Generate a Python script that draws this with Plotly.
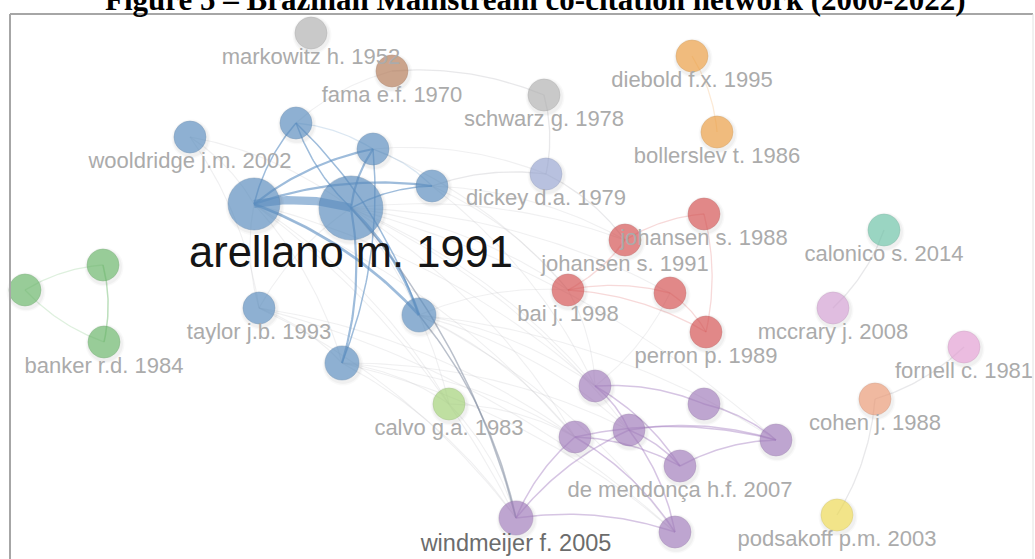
import numpy as np
import plotly.graph_objects as go

# ---------------- data (VOSviewer layout coordinates) ----------------
labels = ["markowitz h. 1952", "fama e.f. 1970", "schwarz g. 1978", "diebold f.x. 1995",
          "bollerslev t. 1986", "dickey d.a. 1979", "wooldridge j.m. 2002", "", "", "",
          "", "arellano m. 1991", "taylor j.b. 1993", "", "",
          "", "", "banker r.d. 1984",
          "johansen s. 1988", "johansen s. 1991", "bai j. 1998", "", "perron p. 1989",
          "calonico s. 2014", "mccrary j. 2008", "fornell c. 1981", "cohen j. 1988",
          "podsakoff p.m. 2003", "calvo g.a. 1983",
          "", "", "", "", "", "de mendonça h.f. 2007", "windmeijer f. 2005", ""]
node_x = [311, 392, 544, 692, 717, 546, 190, 296, 373, 432, 254, 351, 259, 419, 342,
          103, 25, 104, 704, 625, 568, 670, 706, 884, 833, 964, 875, 837, 449,
          595, 704, 575, 629, 776, 680, 516, 675]
node_y = [33, 71, 95, 56, 132, 174, 137, 123, 149, 186, 204, 208, 308, 315, 363,
          265, 290, 342, 214, 240, 290, 293, 332, 230, 308, 347, 399, 515, 404,
          386, 404, 437, 430, 440, 466, 518, 532]
citations = [60, 60, 60, 60, 60, 60, 60, 60, 60, 60, 158, 240, 60, 68, 68,
             60, 60, 60, 60, 60, 60, 60, 60, 60, 60, 60, 60, 60, 60,
             60, 60, 60, 60, 60, 60, 68, 60]
cluster = ["gray", "brown", "gray", "orange", "orange", "periwinkle", "blue", "blue", "blue", "blue",
           "blue", "blue", "blue", "blue", "blue", "green", "green", "green",
           "red", "red", "red", "red", "red", "teal", "lilac", "pink", "salmon", "yellow", "lime",
           "purple", "purple", "purple", "purple", "purple", "purple", "purple", "purple"]

# links: (source, target, strength)
links = [
    # strong blue cluster links
    (10, 11, 15), (10, 8, 4), (10, 9, 4), (10, 13, 5), (10, 7, 3), (11, 7, 3),
    (11, 8, 4), (11, 9, 3), (11, 13, 5), (11, 14, 4), (8, 14, 3), (7, 13, 3),
    # links to windmeijer
    (11, 35, 3), (13, 35, 3),
    # purple cluster
    (29, 30, 3), (29, 32, 3), (31, 33, 3), (32, 33, 3), (32, 34, 3), (34, 33, 3),
    (35, 31, 3), (35, 36, 3), (35, 32, 3), (31, 36, 3), (32, 36, 3), (30, 33, 3),
    (29, 34, 3), (31, 34, 3),
    # red cluster
    (20, 21, 2), (19, 18, 2), (18, 22, 2), (21, 22, 2), (20, 22, 2),
    # green cluster
    (15, 17, 3), (16, 15, 2), (17, 16, 2),
    # light links
    (2, 5, 2), (3, 4, 2), (5, 19, 2), (23, 24, 2), (25, 26, 2), (26, 27, 2), (19, 20, 2),
    (9, 5, 2), (1, 2, 2), (7, 8, 2), (8, 9, 2), (7, 1, 1),
    # faint background web
    (6, 10, 1), (6, 11, 1), (12, 10, 1), (12, 11, 1), (12, 14, 1), (14, 28, 1), (10, 28, 1),
    (11, 28, 1), (13, 29, 1), (13, 31, 1), (13, 32, 1), (13, 36, 1), (14, 35, 1), (14, 31, 1),
    (12, 35, 1), (10, 35, 1), (11, 29, 1), (11, 31, 1), (11, 32, 1), (11, 20, 1), (11, 19, 1),
    (9, 20, 1), (9, 19, 1), (9, 29, 1), (20, 29, 1), (21, 29, 1), (28, 35, 1), (28, 31, 1),
    (10, 31, 1), (10, 29, 1), (12, 31, 1), (14, 36, 1), (11, 33, 1), (13, 33, 1), (8, 20, 1),
    (6, 12, 1), (10, 14, 1), (14, 32, 1), (12, 36, 1), (13, 20, 1), (11, 21, 1), (8, 5, 1),
]

title_text = "Figure 5 – Brazilian Mainstream co-citation network (2000-2022)"

# ---------------- styles ----------------
palette = {
    "blue": (93, 144, 195), "gray": (181, 181, 181), "brown": (184, 125, 90),
    "orange": (240, 161, 67), "periwinkle": (156, 170, 214), "red": (217, 84, 84),
    "green": (107, 185, 107), "teal": (112, 199, 171), "lilac": (216, 163, 216),
    "pink": (232, 162, 216), "salmon": (240, 157, 120), "yellow": (242, 222, 85),
    "lime": (166, 214, 122), "purple": (165, 127, 192),
}
label_style = {"arellano m. 1991": (43.5, "#151515"), "windmeijer f. 2005": (23.5, "#6c6c6c")}
default_label = (22, "#ababab")
W, H = 1035, 559


def rgba(c, a):
    return "rgba(%d,%d,%d,%.2f)" % (c[0], c[1], c[2], a)


radius = [16 * np.sqrt(c / 60.0) for c in citations]

fig = go.Figure()


def bezier(i, j, curv=0.12, n=40):
    x0, y0, x2, y2 = node_x[i], node_y[i], node_x[j], node_y[j]
    dx, dy = x2 - x0, y2 - y0
    cx = (x0 + x2) / 2 + curv * dy
    cy = (y0 + y2) / 2 - curv * dx
    t = np.linspace(0, 1, n)
    bx = (1 - t) ** 2 * x0 + 2 * (1 - t) * t * cx + t ** 2 * x2
    by = (1 - t) ** 2 * y0 + 2 * (1 - t) * t * cy + t ** 2 * y2
    return bx, by


groups = {}
for s, t, w in links:
    same = cluster[s] == cluster[t]
    if w >= 3:
        if same:
            alpha = 0.6 if cluster[s] == "blue" else 0.45
            col = rgba(palette[cluster[s]], alpha)
        else:
            col = "rgba(130,140,160,0.55)"
        width = 0.55 * w if w > 3 else 1.5
    elif w == 2:
        col = rgba(palette[cluster[s]], 0.22) if same else "rgba(185,185,190,0.32)"
        width = 1.3
    else:
        col = "rgba(200,200,205,0.28)"
        width = 1.1
    key = (w, col, width)
    groups.setdefault(key, ([], []))
    bx, by = bezier(s, t)
    groups[key][0].extend(list(bx) + [None])
    groups[key][1].extend(list(by) + [None])

for key in sorted(groups.keys(), key=lambda k: k[0]):
    gx, gy = groups[key]
    fig.add_trace(go.Scatter(x=gx, y=gy, mode="lines", hoverinfo="skip",
                             line=dict(color=key[1], width=key[2]), showlegend=False))

# soft node shadows
for extra, a in [(7, 0.035), (4, 0.05)]:
    fig.add_trace(go.Scatter(x=[xx + 1 for xx in node_x], y=[yy + 2 for yy in node_y], mode="markers",
                             hoverinfo="skip", showlegend=False,
                             marker=dict(size=[2 * r + extra for r in radius],
                                         color="rgba(0,0,0,%.3f)" % a, line=dict(width=0))))

# nodes
fig.add_trace(go.Scatter(
    x=node_x, y=node_y, mode="markers", showlegend=False, text=labels, hoverinfo="text",
    marker=dict(size=[2 * r for r in radius],
                color=[rgba(palette[c], 0.95) for c in cluster],
                line=dict(width=1, color=[rgba(tuple(int(v * 0.85) for v in palette[c]), 0.5) for c in cluster])),
))

# labels
lx, ly, lt, ls, lc = [], [], [], [], []
for i, name in enumerate(labels):
    if not name:
        continue
    fs, col = label_style.get(name, default_label)
    lx.append(node_x[i])
    ly.append(node_y[i] + radius[i] + 0.3 * fs + 3)
    lt.append(name)
    ls.append(fs)
    lc.append(col)
fig.add_trace(go.Scatter(x=lx, y=ly, mode="text", text=lt, textposition="middle center",
                         hoverinfo="skip", showlegend=False,
                         textfont=dict(family="Liberation Sans, Arial, sans-serif", size=ls, color=lc)))

# frame
fig.add_shape(type="line", xref="paper", yref="paper", x0=10 / W, x1=1033 / W,
              y0=1 - 14 / H, y1=1 - 14 / H, line=dict(color="#a6a6a6", width=2))
fig.add_shape(type="line", xref="paper", yref="paper", x0=10 / W, x1=10 / W,
              y0=0, y1=1 - 14 / H, line=dict(color="#a6a6a6", width=2))
fig.add_shape(type="line", xref="paper", yref="paper", x0=1033 / W, x1=1033 / W,
              y0=0, y1=1 - 14 / H, line=dict(color="#e2e2e2", width=1))

fig.add_annotation(text="<b>" + title_text + "</b>", xref="paper", yref="paper",
                   x=535 / W, y=1 - 19 / H, xanchor="center", yanchor="bottom", showarrow=False,
                   font=dict(family="Liberation Serif, Times New Roman, serif", size=31, color="#000000"))

fig.update_layout(
    width=W, height=H, margin=dict(l=0, r=0, t=0, b=0),
    paper_bgcolor="white", plot_bgcolor="white",
    xaxis=dict(range=[0, W], visible=False, fixedrange=True),
    yaxis=dict(range=[H, 0], visible=False, fixedrange=True),
    showlegend=False,
)

fig.write_html("out.html", config={"displayModeBar": False},
               post_script="document.body.style.margin='0';document.body.style.overflow='hidden';")
